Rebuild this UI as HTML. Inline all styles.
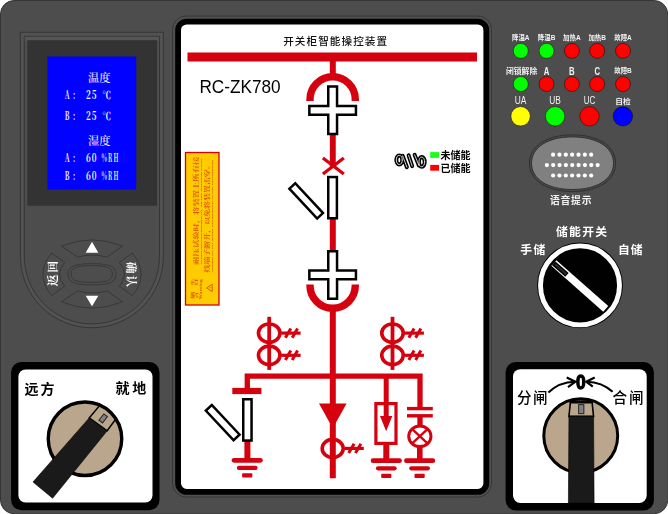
<!DOCTYPE html>
<html lang="zh-CN">
<head>
<meta charset="utf-8">
<title>RC-ZK780 开关柜智能操控装置</title>
<style>
html,body{margin:0;padding:0;background:#fff;}
body{width:668px;height:514px;overflow:hidden;}
svg{display:block;opacity:0.999;}
text{font-family:"Liberation Sans", "Noto Sans CJK SC", sans-serif;}
.lcd text{font-family:"Noto Serif CJK SC", "Liberation Serif", serif;fill:#f6f6ff;font-size:11px;font-weight:700;}
.cs, .cs text, text.cs{font-family:"Noto Serif CJK SC", "Liberation Serif", serif;}
.ls, .cs text.ls, text.ls{font-family:"Liberation Serif",serif;}
</style>
</head>
<body>
<svg width="668" height="514" viewBox="0 0 668 514">
<rect x="0.5" y="0.5" width="667.2" height="513.2" rx="13.5" fill="#4d4d4d" stroke="#363636" stroke-width="1"/>
<g fill="none" stroke="#363636" stroke-width="1">
<path d="M20.4,256.3 V32.3 H163.4 V256.3 A71.5,71.5 0 0 1 20.4,256.3 Z" fill="#525252"/>
<path d="M24.3,256.3 V36.3 H159.5 V256.3 A67.6,67.6 0 0 1 24.3,256.3 Z" fill="#4d4d4d"/>
</g>
<rect x="24.8" y="36.8" width="134.2" height="4" fill="#555"/>
<rect x="27.4" y="40.2" width="129.6" height="165.5" fill="#333"/>
<rect x="47.4" y="56.5" width="88.8" height="133" fill="#0000ff"/>
<g class="lcd">
<text x="88" y="82.3" textLength="22.4" lengthAdjust="spacingAndGlyphs" style="font-size:11.5px;font-weight:500">温度</text>
<text x="88" y="145" textLength="22.4" lengthAdjust="spacingAndGlyphs" style="font-size:11.5px;font-weight:500">湿度</text>
<text transform="translate(0 99) scale(0.6 1)" x="108.00 121.50" y="0">A:</text><text transform="translate(0 99) scale(0.729 1)" x="117.83 125.93" y="0">25</text><text x="102.2" y="98.9" textLength="8.8" lengthAdjust="spacingAndGlyphs" style="font-size:10px;font-weight:700">℃</text>
<text transform="translate(0 120.4) scale(0.6 1)" x="108.00 121.50" y="0">B:</text><text transform="translate(0 120.4) scale(0.729 1)" x="117.83 125.93" y="0">25</text><text x="102.2" y="120.3" textLength="8.8" lengthAdjust="spacingAndGlyphs" style="font-size:10px;font-weight:700">℃</text>
<text transform="translate(0 161.6) scale(0.6 1)" x="108.00 121.50" y="0">A:</text><text transform="translate(0 161.6) scale(0.729 1)" x="117.83 125.93" y="0">60</text><text transform="translate(0 161.6) scale(0.52 1)" x="195.19 207.50 218.46" y="0" style="font-weight:700">%RH</text>
<text transform="translate(0 180.4) scale(0.6 1)" x="108.00 121.50" y="0">B:</text><text transform="translate(0 180.4) scale(0.729 1)" x="117.83 125.93" y="0">60</text><text transform="translate(0 180.4) scale(0.52 1)" x="195.19 207.50 218.46" y="0" style="font-weight:700">%RH</text>
</g>
<g fill="#4d4d4d" stroke="#383838" stroke-width="1">
<path d="M61.4,246.2 Q92,233.5 122.5,246.2 L107.2,257 Q92,253.2 77.6,257 Z"/>
<path d="M61.4,301.8 Q92,314.5 122.5,301.8 L107.2,291 Q92,294.8 77.6,291 Z"/>
<path d="M51.6,253 Q34.2,274.3 51.6,295.6 L64.7,286.2 Q54.5,274.3 64.7,262.3 Z"/>
<path d="M132.4,253 Q149.8,274.3 132.4,295.6 L119.3,286.2 Q129.5,274.3 119.3,262.3 Z"/>
<path d="M68.1,274.3 C68.1,266.46 74.31,263.7 92,263.7 C109.69,263.7 115.9,266.46 115.9,274.3 C115.9,282.14 109.69,284.90000000000003 92,284.90000000000003 C74.31,284.90000000000003 68.1,282.14 68.1,274.3 Z"/>
<path d="M71.1,274.0 C71.1,267.78 76.46,265.6 91.7,265.6 C106.94,265.6 112.30000000000001,267.78 112.30000000000001,274.0 C112.30000000000001,280.22 106.94,282.4 91.7,282.4 C76.46,282.4 71.1,280.22 71.1,274.0 Z"/>
</g>
<path d="M92,241.7 L98.3,252.8 H85.7 Z" fill="#fff"/>
<path d="M92,306.3 L98.3,295.7 H85.7 Z" fill="#fff"/>
<text transform="translate(57.1 273.6) rotate(-90)" text-anchor="middle" class="cs" style="font-size:11.8px;font-weight:700;fill:#fff" textLength="25.4" lengthAdjust="spacing">返回</text>
<text transform="translate(126.6 274.4) rotate(90)" text-anchor="middle" class="cs" style="font-size:11.8px;font-weight:700;fill:#fff" textLength="25.4" lengthAdjust="spacing">确认</text>
<rect x="172.6" y="16.1" width="318.9" height="480.9" rx="13.5" fill="#505050" stroke="#363636" stroke-width="1"/>
<rect x="178.1" y="21.55" width="308.2" height="470.3" rx="8.6" fill="#fff" stroke="#000" stroke-width="5.8"/>
<text x="283.2" y="45.3" textLength="103.9" lengthAdjust="spacing" style="font-size:10.6px;font-weight:500;fill:#111">开关柜智能操控装置</text>
<text x="199.4" y="92.8" textLength="81.2" lengthAdjust="spacingAndGlyphs" style="font-size:17.9px;fill:#000">RC-ZK780</text>
<g fill="none" stroke="#d6000f">
<line x1="187.5" y1="57" x2="477" y2="57" stroke-width="8.9"/>
<line x1="332.8" y1="60" x2="332.8" y2="76" stroke-width="6"/>
<path d="M310,101 V99.4 A22.65,22.65 0 0 1 355.3,99.4 V101" stroke-width="7.4"/>
<line x1="332.8" y1="134" x2="332.8" y2="167" stroke-width="5.9"/>
<line x1="322.9" y1="158" x2="343.8" y2="174" stroke-width="3.3"/>
<line x1="343.8" y1="158" x2="322.9" y2="174" stroke-width="3.3"/>
<line x1="332.8" y1="219" x2="332.8" y2="252" stroke-width="6"/>
<path d="M310,284.4 V285.6 A22.65,22.65 0 0 0 355.3,285.6 V284.4" stroke-width="7.4"/>
<line x1="332.8" y1="307" x2="332.8" y2="478.3" stroke-width="6"/>
<path d="M247.3,389 V376.1 H420 V408" stroke-width="5.3" stroke-linejoin="miter"/>
<line x1="386.2" y1="376" x2="386.2" y2="418" stroke-width="5"/>
<line x1="232.3" y1="391" x2="261.4" y2="391" stroke-width="6.2"/>
<line x1="247.4" y1="440" x2="247.4" y2="460" stroke-width="6"/>
<rect x="375.9" y="403.6" width="20.1" height="39.8" stroke-width="3.2"/>
<line x1="386.3" y1="444" x2="386.3" y2="460" stroke-width="6"/>
<line x1="407" y1="408.6" x2="432.8" y2="408.6" stroke-width="3.4"/>
<line x1="407" y1="415.8" x2="432.8" y2="415.8" stroke-width="3.4"/>
<line x1="420" y1="416" x2="420" y2="426" stroke-width="5.3"/>
<ellipse cx="419.85" cy="436.3" rx="11.1" ry="10.3" stroke-width="3"/>
<line x1="412.2" y1="429.2" x2="427.5" y2="443.4" stroke-width="2.3"/>
<line x1="427.5" y1="429.2" x2="412.2" y2="443.4" stroke-width="2.3"/>
<line x1="419.8" y1="446.5" x2="419.8" y2="460" stroke-width="5.6"/>
</g>
<path d="M319,403.6 H346.6 L332.8,428.2 Z" fill="#d6000f"/>
<path d="M380,415.9 H392.3 L386.15,431.3 Z" fill="#d6000f"/>
<path d="M328.25,86.55 H337.04999999999995 V105.95 H355.95 V114.64999999999999 H337.04999999999995 V134.05 H328.25 V114.64999999999999 H309.34999999999997 V105.95 H328.25 Z" fill="#fff" stroke="#000" stroke-width="2.5" stroke-linejoin="miter"/>
<path d="M328.25,251.14999999999998 H337.04999999999995 V270.54999999999995 H355.95 V279.25 H337.04999999999995 V298.65 H328.25 V279.25 H309.34999999999997 V270.54999999999995 H328.25 Z" fill="#fff" stroke="#000" stroke-width="2.5" stroke-linejoin="miter"/>
<rect x="328.25" y="177.05" width="8.65" height="41.2" fill="#fff" stroke="#000" stroke-width="2.5"/>
<rect x="-4.0" y="-20.3" width="8.0" height="40.6" fill="#fff" stroke="#000" stroke-width="2.5" transform="translate(306.2 200.9) rotate(-43.1)"/>
<rect x="243.25" y="399.25" width="8.3" height="41.3" fill="#fff" stroke="#000" stroke-width="2.5"/>
<rect x="-4.1" y="-20.3" width="8.2" height="40.6" fill="#fff" stroke="#000" stroke-width="2.5" transform="translate(222.7 422.6) rotate(-43.1)"/>
<g stroke="#d6000f" fill="none"><line x1="269.2" y1="316.8" x2="269.2" y2="369.9" stroke-width="3.8"/><ellipse cx="269.2" cy="333.1" rx="10.75" ry="9.15" stroke-width="3.6"/><line x1="281.2" y1="333.1" x2="300.6" y2="333.1" stroke-width="3.2"/><line x1="285.4" y1="337.8" x2="290.8" y2="328.40000000000003" stroke-width="3"/><line x1="292.2" y1="337.8" x2="297.6" y2="328.40000000000003" stroke-width="3"/><ellipse cx="269.2" cy="355.3" rx="10.75" ry="9.15" stroke-width="3.6"/><line x1="281.2" y1="355.3" x2="300.6" y2="355.3" stroke-width="3.2"/><line x1="285.4" y1="360.0" x2="290.8" y2="350.6" stroke-width="3"/><line x1="292.2" y1="360.0" x2="297.6" y2="350.6" stroke-width="3"/></g>
<g stroke="#d6000f" fill="none"><line x1="392.5" y1="316.8" x2="392.5" y2="369.9" stroke-width="3.8"/><ellipse cx="392.5" cy="333.1" rx="10.75" ry="9.15" stroke-width="3.6"/><line x1="404.6" y1="333.1" x2="423.9" y2="333.1" stroke-width="3.2"/><line x1="408.8" y1="337.8" x2="414.1" y2="328.40000000000003" stroke-width="3"/><line x1="415.6" y1="337.8" x2="420.9" y2="328.40000000000003" stroke-width="3"/><ellipse cx="392.5" cy="355.3" rx="10.75" ry="9.15" stroke-width="3.6"/><line x1="404.6" y1="355.3" x2="423.9" y2="355.3" stroke-width="3.2"/><line x1="408.8" y1="360.0" x2="414.1" y2="350.6" stroke-width="3"/><line x1="415.6" y1="360.0" x2="420.9" y2="350.6" stroke-width="3"/></g>
<g stroke="#d6000f" fill="none"><ellipse cx="332.7" cy="448.4" rx="10.5" ry="9.0" stroke-width="3.6"/><line x1="344.5" y1="448.4" x2="363.8" y2="448.4" stroke-width="3.2"/><line x1="348.7" y1="453.09999999999997" x2="354.1" y2="443.7" stroke-width="3"/><line x1="355.5" y1="453.09999999999997" x2="360.9" y2="443.7" stroke-width="3"/></g>
<g stroke="#d6000f" stroke-linecap="round" fill="none"><line x1="234.0" y1="460.3" x2="260.4" y2="460.3" stroke-width="4.7"/><line x1="238.89999999999998" y1="467.90000000000003" x2="255.5" y2="467.90000000000003" stroke-width="4.2"/><rect x="242.1" y="473.3" width="10.2" height="4.2" rx="1" fill="#d6000f" stroke="none"/></g>
<g stroke="#d6000f" stroke-linecap="round" fill="none"><line x1="373.1" y1="460.7" x2="399.5" y2="460.7" stroke-width="4.7"/><line x1="378.0" y1="468.3" x2="394.6" y2="468.3" stroke-width="4.2"/><rect x="381.2" y="473.7" width="10.2" height="4.2" rx="1" fill="#d6000f" stroke="none"/></g>
<g stroke="#d6000f" stroke-linecap="round" fill="none"><line x1="406.40000000000003" y1="460.7" x2="432.8" y2="460.7" stroke-width="4.7"/><line x1="411.3" y1="468.3" x2="427.90000000000003" y2="468.3" stroke-width="4.2"/><rect x="414.5" y="473.7" width="10.2" height="4.2" rx="1" fill="#d6000f" stroke="none"/></g>
<g fill="none" stroke-linecap="round" stroke-linejoin="round">
<path d="M402.25,159.95 A2.95,4.55 0 1 0 396.35,159.95 A2.95,4.55 0 1 0 402.25,159.95 M402.6,155.8 L406.9,167.2 M408.6,155.3 L412.2,166.2 M414.6,154.8 L418.9,165.4 M424.7,161.95 A2.85,4.85 0 1 0 419,161.95 A2.85,4.85 0 1 0 424.7,161.95" stroke="#000" stroke-width="4"/>
<path d="M402.25,159.95 A2.95,4.55 0 1 0 396.35,159.95 A2.95,4.55 0 1 0 402.25,159.95 M402.6,155.8 L406.9,167.2 M408.6,155.3 L412.2,166.2 M414.6,154.8 L418.9,165.4 M424.7,161.95 A2.85,4.85 0 1 0 419,161.95 A2.85,4.85 0 1 0 424.7,161.95" stroke="#fff" stroke-width="0.8"/>
</g>
<rect x="430.2" y="152.1" width="8.8" height="5.8" fill="#19ff19"/>
<rect x="430.2" y="164.9" width="8.8" height="5.8" fill="#ff0000"/>
<text x="440.4" y="159.2" textLength="30" lengthAdjust="spacingAndGlyphs" style="font-size:10px;font-weight:700;fill:#000">未储能</text>
<text x="440.4" y="172" textLength="30" lengthAdjust="spacingAndGlyphs" style="font-size:10px;font-weight:700;fill:#000">已储能</text>
<rect x="185.5" y="152.5" width="33.5" height="152.5" fill="#ffcc00" stroke="#d4000a" stroke-width="1.3"/>
<g fill="#dc5a0c" class="cs" style="font-weight:700">
<text transform="translate(198.1 264.7) rotate(-90)" textLength="108" lengthAdjust="spacingAndGlyphs" style="font-size:5.4px">耐压试验时，将装置上所有接</text>
<text transform="translate(201.6 264.7) rotate(-90)" textLength="106" lengthAdjust="spacingAndGlyphs" style="font-size:2.8px" class="ls">When pressurizing(test), all the terminal wires</text>
<text transform="translate(209.2 272.6) rotate(-90)" textLength="111.4" lengthAdjust="spacingAndGlyphs" style="font-size:5.4px">线端子断开，以免将装置击穿。</text>
<text transform="translate(212.9 272.6) rotate(-90)" textLength="113" lengthAdjust="spacingAndGlyphs" style="font-size:2.8px" class="ls">should be off avoid breakdown of the instrument</text>
<text transform="translate(196.6 298.8) rotate(-90)" textLength="20.2" lengthAdjust="spacing" style="font-size:7.2px;font-weight:900">警告</text>
<text transform="translate(202.4 299.2) rotate(-90)" textLength="19.9" lengthAdjust="spacingAndGlyphs" style="font-size:3.6px" class="ls">Warning</text>
</g>
<g transform="translate(209.6 287.9) rotate(-90)"><path d="M0,-3 L3.7,2.6 H-3.7 Z" fill="none" stroke="#dc5a0c" stroke-width="1" stroke-linejoin="round"/><text x="0" y="2" text-anchor="middle" style="font-size:4px;font-weight:700;fill:#dc5a0c">!</text></g>
<circle cx="520.75" cy="50.85" r="7.5" fill="#00ff00" stroke="#000" stroke-opacity="0.45" stroke-width="1"/>
<circle cx="546.55" cy="50.85" r="7.5" fill="#00ff00" stroke="#000" stroke-opacity="0.45" stroke-width="1"/>
<circle cx="571.9" cy="50.85" r="7.5" fill="#ff0000" stroke="#000" stroke-opacity="0.45" stroke-width="1"/>
<circle cx="597.2" cy="50.85" r="7.5" fill="#ff0000" stroke="#000" stroke-opacity="0.45" stroke-width="1"/>
<circle cx="623.0" cy="50.85" r="7.5" fill="#ff0000" stroke="#000" stroke-opacity="0.45" stroke-width="1"/>
<circle cx="520.75" cy="84.0" r="7.5" fill="#00ff00" stroke="#000" stroke-opacity="0.45" stroke-width="1"/>
<circle cx="546.55" cy="84.0" r="7.5" fill="#ff0000" stroke="#000" stroke-opacity="0.45" stroke-width="1"/>
<circle cx="571.9" cy="84.0" r="7.5" fill="#ff0000" stroke="#000" stroke-opacity="0.45" stroke-width="1"/>
<circle cx="597.2" cy="84.0" r="7.5" fill="#ff0000" stroke="#000" stroke-opacity="0.45" stroke-width="1"/>
<circle cx="623.0" cy="84.0" r="7.5" fill="#ff0000" stroke="#000" stroke-opacity="0.45" stroke-width="1"/>
<circle cx="520.6" cy="116.3" r="9.7" fill="#ffff00" stroke="#000" stroke-opacity="0.45" stroke-width="1"/>
<circle cx="555.1" cy="116.3" r="9.7" fill="#00ff00" stroke="#000" stroke-opacity="0.45" stroke-width="1"/>
<circle cx="589.5" cy="116.3" r="9.7" fill="#ff0000" stroke="#000" stroke-opacity="0.45" stroke-width="1"/>
<circle cx="622.9" cy="116.3" r="9.7" fill="#0000ff" stroke="#000" stroke-opacity="0.45" stroke-width="1"/>
<g fill="#f2f2f2" text-anchor="middle" style="font-weight:700">
<text x="520.75" y="40.2" textLength="17.6" lengthAdjust="spacingAndGlyphs" style="font-size:7.4px">降温A</text>
<text x="546.55" y="40.2" textLength="17.6" lengthAdjust="spacingAndGlyphs" style="font-size:7.4px">降温B</text>
<text x="571.9" y="40.2" textLength="17.6" lengthAdjust="spacingAndGlyphs" style="font-size:7.4px">加热A</text>
<text x="597.2" y="40.2" textLength="17.6" lengthAdjust="spacingAndGlyphs" style="font-size:7.4px">加热B</text>
<text x="623.0" y="40.2" textLength="17.6" lengthAdjust="spacingAndGlyphs" style="font-size:7.4px">故障A</text>
<text x="521.6" y="73.5" textLength="31.2" lengthAdjust="spacingAndGlyphs" style="font-size:7.6px">闭锁解除</text>
<text x="623.0" y="73.2" textLength="17.6" lengthAdjust="spacingAndGlyphs" style="font-size:7.4px">故障B</text>
<text x="622.9" y="104.4" textLength="15.4" lengthAdjust="spacingAndGlyphs" style="font-size:7.3px">自检</text>
</g>
<g fill="#f2f2f2" text-anchor="middle" style="font-weight:400">
<text x="546.55" y="74.6" textLength="5.6" lengthAdjust="spacingAndGlyphs" style="font-size:10.2px;font-weight:700">A</text>
<text x="571.9" y="74.6" textLength="5.6" lengthAdjust="spacingAndGlyphs" style="font-size:10.2px;font-weight:700">B</text>
<text x="597.2" y="74.6" textLength="5.6" lengthAdjust="spacingAndGlyphs" style="font-size:10.2px;font-weight:700">C</text>
<text x="520.6" y="104" textLength="11.6" lengthAdjust="spacingAndGlyphs" style="font-size:10px">UA</text>
<text x="555.1" y="104" textLength="11.6" lengthAdjust="spacingAndGlyphs" style="font-size:10px">UB</text>
<text x="589.5" y="104" textLength="11.6" lengthAdjust="spacingAndGlyphs" style="font-size:10px">UC</text>
</g>
<path d="M529.4,163.2 C529.4,146.08 546.42,134.89999999999998 572.5,134.89999999999998 C598.58,134.89999999999998 615.6,146.08 615.6,163.2 C615.6,180.32 598.58,191.5 572.5,191.5 C546.42,191.5 529.4,180.32 529.4,163.2 Z" fill="#4a4a4a" stroke="#303030" stroke-width="1"/>
<path d="M531.5,163.2 C531.5,147.29 547.70,136.89999999999998 572.5,136.89999999999998 C597.30,136.89999999999998 613.5,147.29 613.5,163.2 C613.5,179.11 597.30,189.5 572.5,189.5 C547.70,189.5 531.5,179.11 531.5,163.2 Z" fill="#808080" stroke="#303030" stroke-width="1"/>
<g fill="#fff">
<circle cx="553.10" cy="154.7" r="2.1"/>
<circle cx="559.45" cy="154.7" r="2.1"/>
<circle cx="565.80" cy="154.7" r="2.1"/>
<circle cx="572.15" cy="154.7" r="2.1"/>
<circle cx="578.50" cy="154.7" r="2.1"/>
<circle cx="584.85" cy="154.7" r="2.1"/>
<circle cx="591.20" cy="154.7" r="2.1"/>
<circle cx="546.85" cy="165.1" r="2.1"/>
<circle cx="553.20" cy="165.1" r="2.1"/>
<circle cx="559.55" cy="165.1" r="2.1"/>
<circle cx="565.90" cy="165.1" r="2.1"/>
<circle cx="572.25" cy="165.1" r="2.1"/>
<circle cx="578.60" cy="165.1" r="2.1"/>
<circle cx="584.95" cy="165.1" r="2.1"/>
<circle cx="591.30" cy="165.1" r="2.1"/>
<circle cx="597.65" cy="165.1" r="2.1"/>
<circle cx="553.10" cy="175.5" r="2.1"/>
<circle cx="559.45" cy="175.5" r="2.1"/>
<circle cx="565.80" cy="175.5" r="2.1"/>
<circle cx="572.15" cy="175.5" r="2.1"/>
<circle cx="578.50" cy="175.5" r="2.1"/>
<circle cx="584.85" cy="175.5" r="2.1"/>
<circle cx="591.20" cy="175.5" r="2.1"/>
</g>
<text x="549.9" y="203.9" textLength="41.6" lengthAdjust="spacing" style="font-size:9.8px;font-weight:700;fill:#f2f2f2">语音提示</text>
<g fill="#fff" style="font-weight:700;font-size:11.8px">
<text x="555.9" y="236" textLength="51.2" lengthAdjust="spacing">储能开关</text>
<text x="520.2" y="254.4" textLength="25" lengthAdjust="spacing">手储</text>
<text x="617.9" y="254.4" textLength="24.6" lengthAdjust="spacing">自储</text>
</g>
<circle cx="580" cy="285.4" r="42.9" fill="#000"/>
<circle cx="580" cy="285.4" r="39.5" fill="none" stroke="#fff" stroke-width="4.9"/>
<g transform="translate(579.8 285.9) rotate(-48.6)">
<rect x="-3.8" y="-34.6" width="7.6" height="69.2" fill="#fff"/>
<rect x="-2.8" y="-34.8" width="5.1" height="17.9" fill="#000"/>
<rect x="-1.2" y="-33.4" width="2.1" height="15.4" fill="#262626"/>
</g>
<rect x="11.1" y="362.1" width="148.4" height="148.2" rx="10.2" fill="#000"/>
<rect x="18.4" y="369.4" width="134.1" height="133.2" rx="7.2" fill="#fff"/>
<g fill="#000" style="font-weight:700;font-size:14px">
<text x="24.5" y="394.4" textLength="30" lengthAdjust="spacing">远方</text>
<text x="115.6" y="392.9" textLength="30.6" lengthAdjust="spacing">就地</text>
</g>
<clipPath id="cl"><rect x="18.4" y="369.4" width="134.1" height="133.2" rx="7.2"/></clipPath>
<clipPath id="clc"><circle cx="85" cy="438.8" r="36.75"/></clipPath>
<g clip-path="url(#cl)">
<circle cx="85" cy="438.8" r="36.75" fill="#baa68c"/>
<g clip-path="url(#clc)">
<path d="M89.2,417.9 L102.1,402.6 L119,414.7 L107.2,430.8 Z" fill="#baa68c" stroke="#000" stroke-width="1.5"/>
<line x1="104.8" y1="409" x2="112.4" y2="414.6" stroke="#e8dccb" stroke-width="0.8"/>
</g>
<rect x="-2.25" y="-4.0" width="4.5" height="8.0" fill="#808080" stroke="#222" stroke-width="1" transform="translate(103.2 418.4) rotate(38)"/>
<circle cx="85" cy="438.8" r="36.75" fill="none" stroke="#000" stroke-width="3.4"/>
<path d="M89.2,417.9 L107.2,430.8 L52.6,498.2 L33,482 Z" fill="#1a1a1a" stroke="#000" stroke-width="0.6"/>
</g>
<rect x="505.6" y="362.1" width="148.3" height="148.4" rx="10.2" fill="#000"/>
<rect x="513" y="369.2" width="133.7" height="133.7" rx="7.4" fill="#fff"/>
<g fill="#000" style="font-weight:500;font-size:14.6px">
<text x="516.9" y="402.9" textLength="30.6" lengthAdjust="spacing">分闸</text>
<text x="612.6" y="402.9" textLength="31" lengthAdjust="spacing">合闸</text>
</g>
<text transform="translate(580.9 388.8) scale(0.88 1)" text-anchor="middle" style="font-size:19.7px;font-weight:700;fill:#000;stroke:#000;stroke-width:1.3px;stroke-linejoin:round">0</text>
<g fill="none" stroke="#000" stroke-width="2.1" stroke-linecap="butt">
<path d="M548.4,392.5 Q559,382 575,381.7"/>
<path d="M566.7,377.6 L575.4,381.7 L568,387.2" stroke-width="2.2"/>
<path d="M612.6,391.8 Q602,382 586.6,381.7"/>
<path d="M594.7,377.4 L586.2,381.7 L592.8,386.6" stroke-width="2.2"/>
</g>
<clipPath id="cr"><rect x="513" y="369.2" width="133.7" height="133.7" rx="7.4"/></clipPath>
<g clip-path="url(#cr)">
<circle cx="580.75" cy="435.75" r="36.95" fill="#baa68c"/><g transform="translate(581.25 435.75)"><path d="M-11.5,-33.05 L-11.5,-35.15 L0,-36.95 L11.5,-35.15 L11.5,-33.05 Z" fill="#000"/><line x1="-5.6" y1="-35.1" x2="5.6" y2="-35.1" stroke="#5b4a3a" stroke-width="0.9"/><path d="M-12.3,-19.4 L-10.9,-33.05 L10.9,-33.05 L12.3,-19.4 Z" fill="#baa68c" stroke="#000" stroke-width="1.6"/><rect x="-2.6" y="-31.1" width="5.2" height="9" fill="#808080" stroke="#222" stroke-width="1"/></g><circle cx="580.75" cy="435.75" r="36.95" fill="none" stroke="#000" stroke-width="3.0"/><g transform="translate(581.25 435.75)"><path d="M-12.3,-19.4 L12.3,-19.4 L12.85,67.3 L-12.85,67.3 Z" fill="#1a1a1a" stroke="#000" stroke-width="0.6"/></g>
</g>
</svg>
</body>
</html>
